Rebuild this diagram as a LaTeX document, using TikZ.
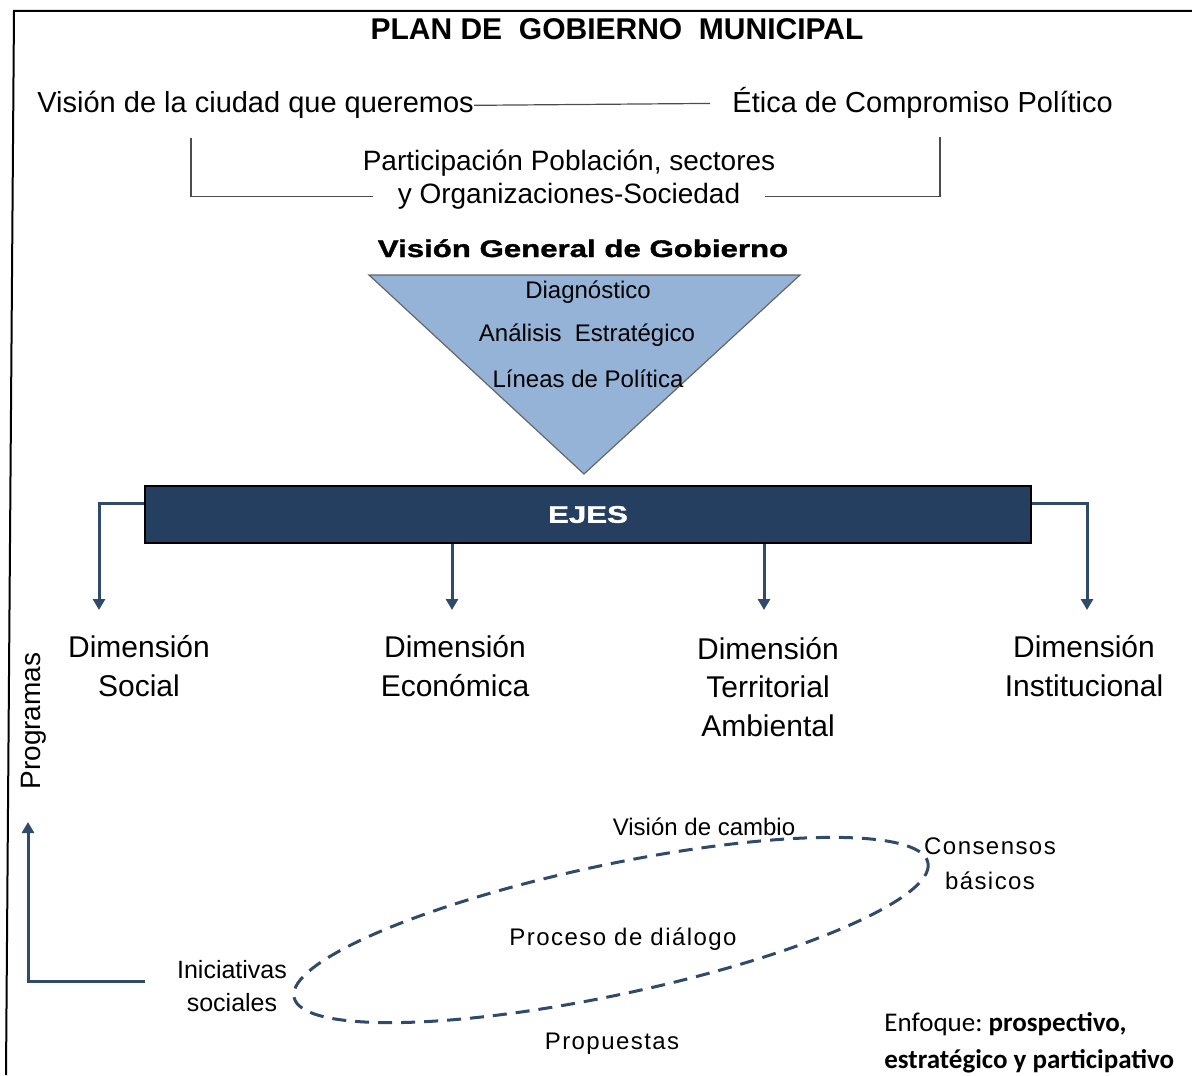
\documentclass[tikz,border=0pt]{standalone}
\usepackage{fontspec}
\setmainfont{Liberation Sans}
\newfontfamily\heavyfont[FakeStretch=1.3,FakeBold=1.5]{Liberation Sans Bold}
\newfontfamily\spacedfont[LetterSpace=6]{Liberation Sans}
\newfontfamily\calibrifont{Carlito}
\usetikzlibrary{arrows.meta,calc}

\definecolor{ejesblue}{RGB}{36,63,96}
\definecolor{arrowblue}{RGB}{48,74,106}
\definecolor{triblue}{RGB}{149,179,215}

\begin{document}
\begin{tikzpicture}[x=0.5pt, y=-0.5pt,
    txt/.style={inner sep=0pt, anchor=base, font=\fontsize{14.5}{17}\selectfont},
    dimtxt/.style={inner sep=0pt, anchor=base, align=center, font=\fontsize{15}{19.25}\selectfont},
    smalltxt/.style={inner sep=0pt, anchor=base, align=center, font=\fontsize{12}{16.5}\selectfont},
    spacedtxt/.style={inner sep=0pt, anchor=base, align=center, font=\spacedfont\fontsize{12}{17.5}\selectfont},
    heavytxt/.style={inner sep=0pt, anchor=base, font=\heavyfont\fontsize{12}{14}\selectfont},
    arrow/.style={-{Triangle[width=6pt,length=5.5pt]}, line width=1.5pt, draw=arrowblue},
    thinline/.style={draw=black!70, line width=0.6pt}
]
\useasboundingbox (0,0) rectangle (1192,1075);
\draw[line width=1pt] (1192,11) -- (14,11) -- (6,1075);

% Encabezado
\node[txt, font=\bfseries\fontsize{15}{18}\selectfont] (title) at (617,40) {PLAN DE\ \ GOBIERNO\ \ MUNICIPAL};
\node[txt, anchor=base west] (vision) at (37,113) {Visión de la ciudad que queremos};
\node[txt, anchor=base west, inner xsep=11pt] (etica) at (710,113) {Ética de Compromiso Político};
\draw[thinline] (vision.east) -- (etica.west);

% Participacion
\node[txt, font=\fontsize{14}{16.5}\selectfont] (partic1) at (569,171) {Participación Población, sectores};
\node[txt, font=\fontsize{14}{16.5}\selectfont, inner xsep=12pt] (partic2) at (569,204) {y Organizaciones-Sociedad};
\coordinate (bracketL) at (191,138);
\coordinate (bracketR) at (940,137);
\draw[thinline] (bracketL) |- (partic2.west);
\draw[thinline] (bracketR) |- (partic2.east);

% Vision general
\node[heavytxt] (vgg) at (583,257) {Visión General de Gobierno};
\draw[fill=triblue, draw=gray!80!black, line width=0.6pt] (369,275) -- (800,275) -- (584,474) -- cycle;
\node[smalltxt] (diag) at (588,298) {Diagnóstico};
\node[smalltxt] (analisis) at (587,341) {Análisis\ \ Estratégico};
\node[smalltxt] (lineas) at (588,387) {Líneas de Política};

% Ejes
\node[draw=black, fill=ejesblue, minimum width=443pt, minimum height=28.5pt, inner sep=0pt, line width=0.6pt,
      text=white, font=\heavyfont\fontsize{12}{14}\selectfont] (ejes) at (588,514.5) {EJES};

\coordinate (tipSocial) at (99,610);
\coordinate (tipEcon) at (452,610);
\coordinate (tipTerr) at (764,610);
\coordinate (tipInst) at (1087,610);
\draw[arrow] ($(ejes.west)+(0,-11)$) -| (tipSocial);
\draw[arrow] (ejes.south -| tipEcon) -- (tipEcon);
\draw[arrow] (ejes.south -| tipTerr) -- (tipTerr);
\draw[arrow] ($(ejes.east)+(0,-11)$) -| (tipInst);

% Dimensiones (base = ultima linea)
\node[dimtxt] (social) at (139,696) {Dimensión\\Social};
\node[dimtxt] (economica) at (455,696) {Dimensión\\Económica};
\node[dimtxt] (territorial) at (768,736) {Dimensión\\Territorial\\Ambiental};
\node[dimtxt] (institucional) at (1084,696) {Dimensión\\Institucional};

% Programas
\node[txt, font=\fontsize{14}{16}\selectfont, rotate=90, anchor=center] (programas) at (34,721) {Programas};
\node[smalltxt, font=\fontsize{12.5}{16.5}\selectfont] (iniciativas) at (232,1011) {Iniciativas\\sociales};
\coordinate (lStart) at (145,981);
\coordinate (progTip) at (28,822);
\draw[arrow] (lStart) -| (progTip);

% Proceso de dialogo
\draw[arrowblue, line width=1.5pt, dash pattern=on 7pt off 4.5pt, rotate around={12:(611,930)}] (611,930) ellipse (324 and 65);
\node[smalltxt] (cambio) at (704,835) {Visión de cambio};
\node[spacedtxt] (consensos) at (990,889) {Consensos\\básicos};
\node[spacedtxt] (dialogo) at (623,945) {Proceso de diálogo};
\node[spacedtxt] (propuestas) at (612,1049) {Propuestas};

\node[inner sep=0pt, anchor=base west, align=left, font=\calibrifont\fontsize{13.5}{18.5}\selectfont] (enfoque) at (884,1068)
  {Enfoque:\ \textbf{prospectivo,}\\\textbf{estratégico y participativo}};
\end{tikzpicture}
\end{document}
